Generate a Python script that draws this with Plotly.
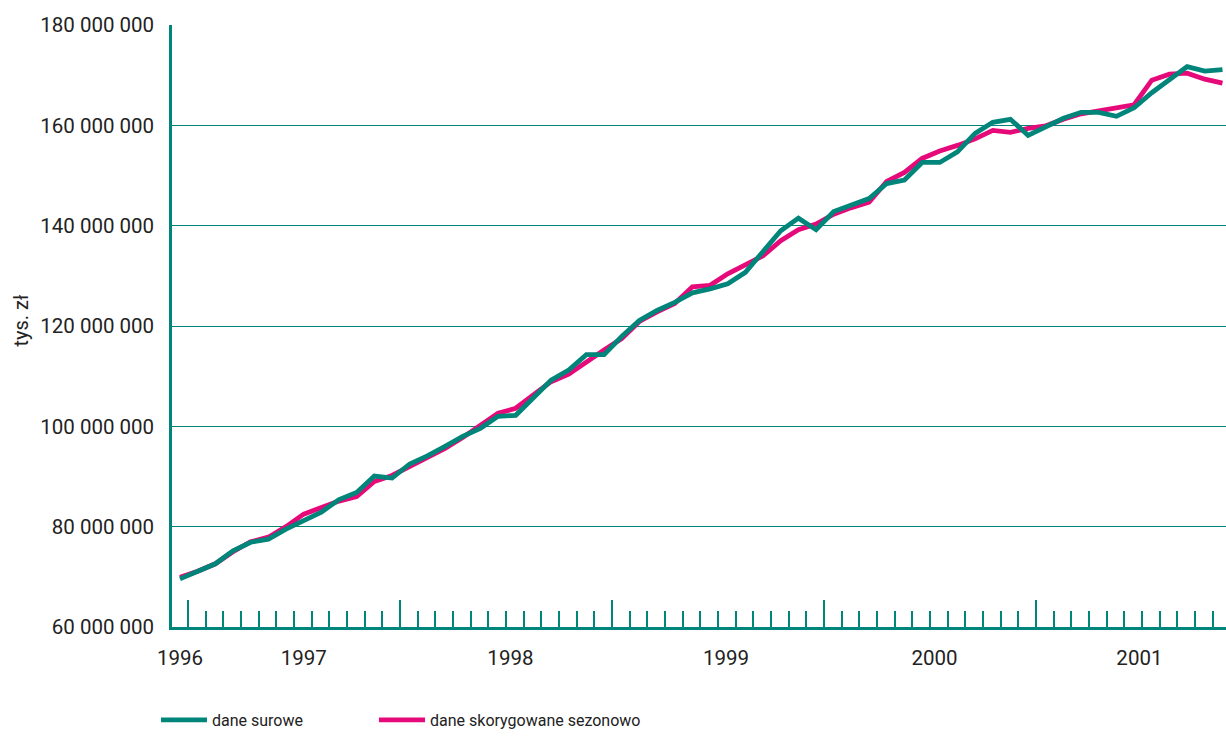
import plotly.graph_objects as go

# ---- data (values in thousands of zł) ----
months = [f"{y}-{m:02d}" for y in range(1996, 2001) for m in range(1, 13)]

dane_surowe = [
    69.6, 71.0, 72.6, 75.2, 76.9, 77.5, 79.5, 81.2, 82.9, 85.4,
    86.8, 90.1, 89.7, 92.5, 94.1, 96.0, 98.0, 99.6, 102.0, 102.2,
    105.8, 109.2, 111.2, 114.3, 114.3, 117.9, 121.1, 123.1, 124.7, 126.6,
    127.4, 128.4, 130.7, 135.0, 139.0, 141.5, 139.2, 142.8, 144.2, 145.4,
    148.4, 149.1, 152.6, 152.6, 154.7, 158.4, 160.6, 161.2, 158.0, 159.8,
    161.4, 162.6, 162.6, 161.8, 163.5, 166.5, 169.0, 171.7, 170.8, 171.1,
]
dane_sezonowo = [
    69.9, 71.1, 72.6, 75.0, 77.0, 77.9, 80.0, 82.5, 83.8, 85.1,
    86.0, 89.0, 90.2, 92.0, 93.8, 95.6, 97.8, 100.3, 102.6, 103.6,
    106.3, 108.9, 110.4, 112.9, 115.2, 117.5, 120.9, 122.8, 124.5, 127.8,
    128.1, 130.4, 132.2, 134.0, 137.0, 139.2, 140.3, 142.3, 143.6, 144.7,
    148.8, 150.6, 153.4, 154.9, 156.0, 157.3, 159.0, 158.6, 159.4, 159.9,
    161.2, 162.3, 162.9, 163.5, 164.1, 169.0, 170.2, 170.4, 169.2, 168.4,
]
year_labels = ["1996", "1997", "1998", "1999", "2000", "2001"]
year_label_pos = [0, 7.0, 18.7, 30.9, 42.7, 54.3]

TEAL = "#00857a"
PINK = "#e6097a"
TXT = "#222222"
FONT = "Roboto, sans-serif"

x = list(range(len(months)))
surowe = [v * 1e6 for v in dane_surowe]
sezonowo = [v * 1e6 for v in dane_sezonowo]

fig = go.Figure()
fig.add_trace(go.Scatter(
    x=x, y=sezonowo, mode="lines", name="dane skorygowane sezonowo",
    line=dict(color=PINK, width=4.8), customdata=months, legend="legend2",
))
fig.add_trace(go.Scatter(
    x=x, y=surowe, mode="lines", name="dane surowe",
    line=dict(color=TEAL, width=4.8), customdata=months, legend="legend",
))
# invisible trace on overlay axis to carry the tick marks
fig.add_trace(go.Scatter(x=[x[0]], y=[surowe[0]], xaxis="x2", mode="markers",
                         marker=dict(opacity=0), showlegend=False, hoverinfo="skip"))

W, H = 1226, 737
ML, MT, MB = 172, 25, 107
PW, PH = W - ML, H - MT - MB

legend_common = dict(
    orientation="h", yanchor="middle", y=-(724 - (H - MB)) / PH,
    font=dict(size=16, color=TXT), itemwidth=46,
    bgcolor="rgba(0,0,0,0)",
)

xr = [-0.453, 59.2]
fig.update_layout(
    width=W, height=H,
    margin=dict(l=ML, r=0, t=MT, b=MB),
    paper_bgcolor="white", plot_bgcolor="white",
    separators=", ",
    font=dict(family=FONT, size=20.5, color=TXT),
    showlegend=True,
    legend=dict(x=(163 - 7 - ML) / PW, xanchor="left", **legend_common),
    legend2=dict(x=(381 - 7 - ML) / PW, xanchor="left", **legend_common),
    xaxis=dict(
        range=xr, showgrid=False, zeroline=False,
        showline=True, linecolor=TEAL, linewidth=3,
        tickmode="array", tickvals=year_label_pos, ticktext=year_labels,
        ticks="", ticklabelstandoff=10,
        tickfont=dict(size=20.5, color=TXT),
    ),
    xaxis2=dict(
        range=xr, overlaying="x", anchor="y", side="bottom",
        showgrid=False, zeroline=False, showline=False, showticklabels=False,
        tickmode="linear", tick0=0.45, dtick=12,
        ticks="inside", ticklen=27, tickwidth=1.5, tickcolor=TEAL,
        minor=dict(ticks="inside", ticklen=16, tickwidth=1.5, tickcolor=TEAL,
                   tickmode="linear", tick0=0.45, dtick=1, showgrid=False),
    ),
    yaxis=dict(
        range=[60e6, 180e6], tickmode="linear", tick0=60e6, dtick=20e6,
        tickformat=",d", showgrid=True, gridcolor=TEAL, gridwidth=1.3,
        zeroline=False, showline=True, linecolor=TEAL, linewidth=2.5,
        ticks="", ticklabelstandoff=11,
        tickfont=dict(size=20.5, color=TXT),
    ),
    annotations=[dict(
        text="tys. zł", xref="paper", yref="paper",
        x=-(ML - 21) / PW, y=(630 - 322) / PH,
        xanchor="center", yanchor="middle", textangle=-90, showarrow=False,
        font=dict(size=20, color=TXT),
    )],
)

fig.write_html(
    "out.html", config={"displayModeBar": False},
    post_script=(
        "document.body.style.margin='0px';"
        "document.body.style.overflow='hidden';"
        "document.documentElement.style.overflow='hidden';"
        "document.querySelectorAll('.main-svg').forEach(function(s){s.style.overflow='hidden';});"
    ),
)
